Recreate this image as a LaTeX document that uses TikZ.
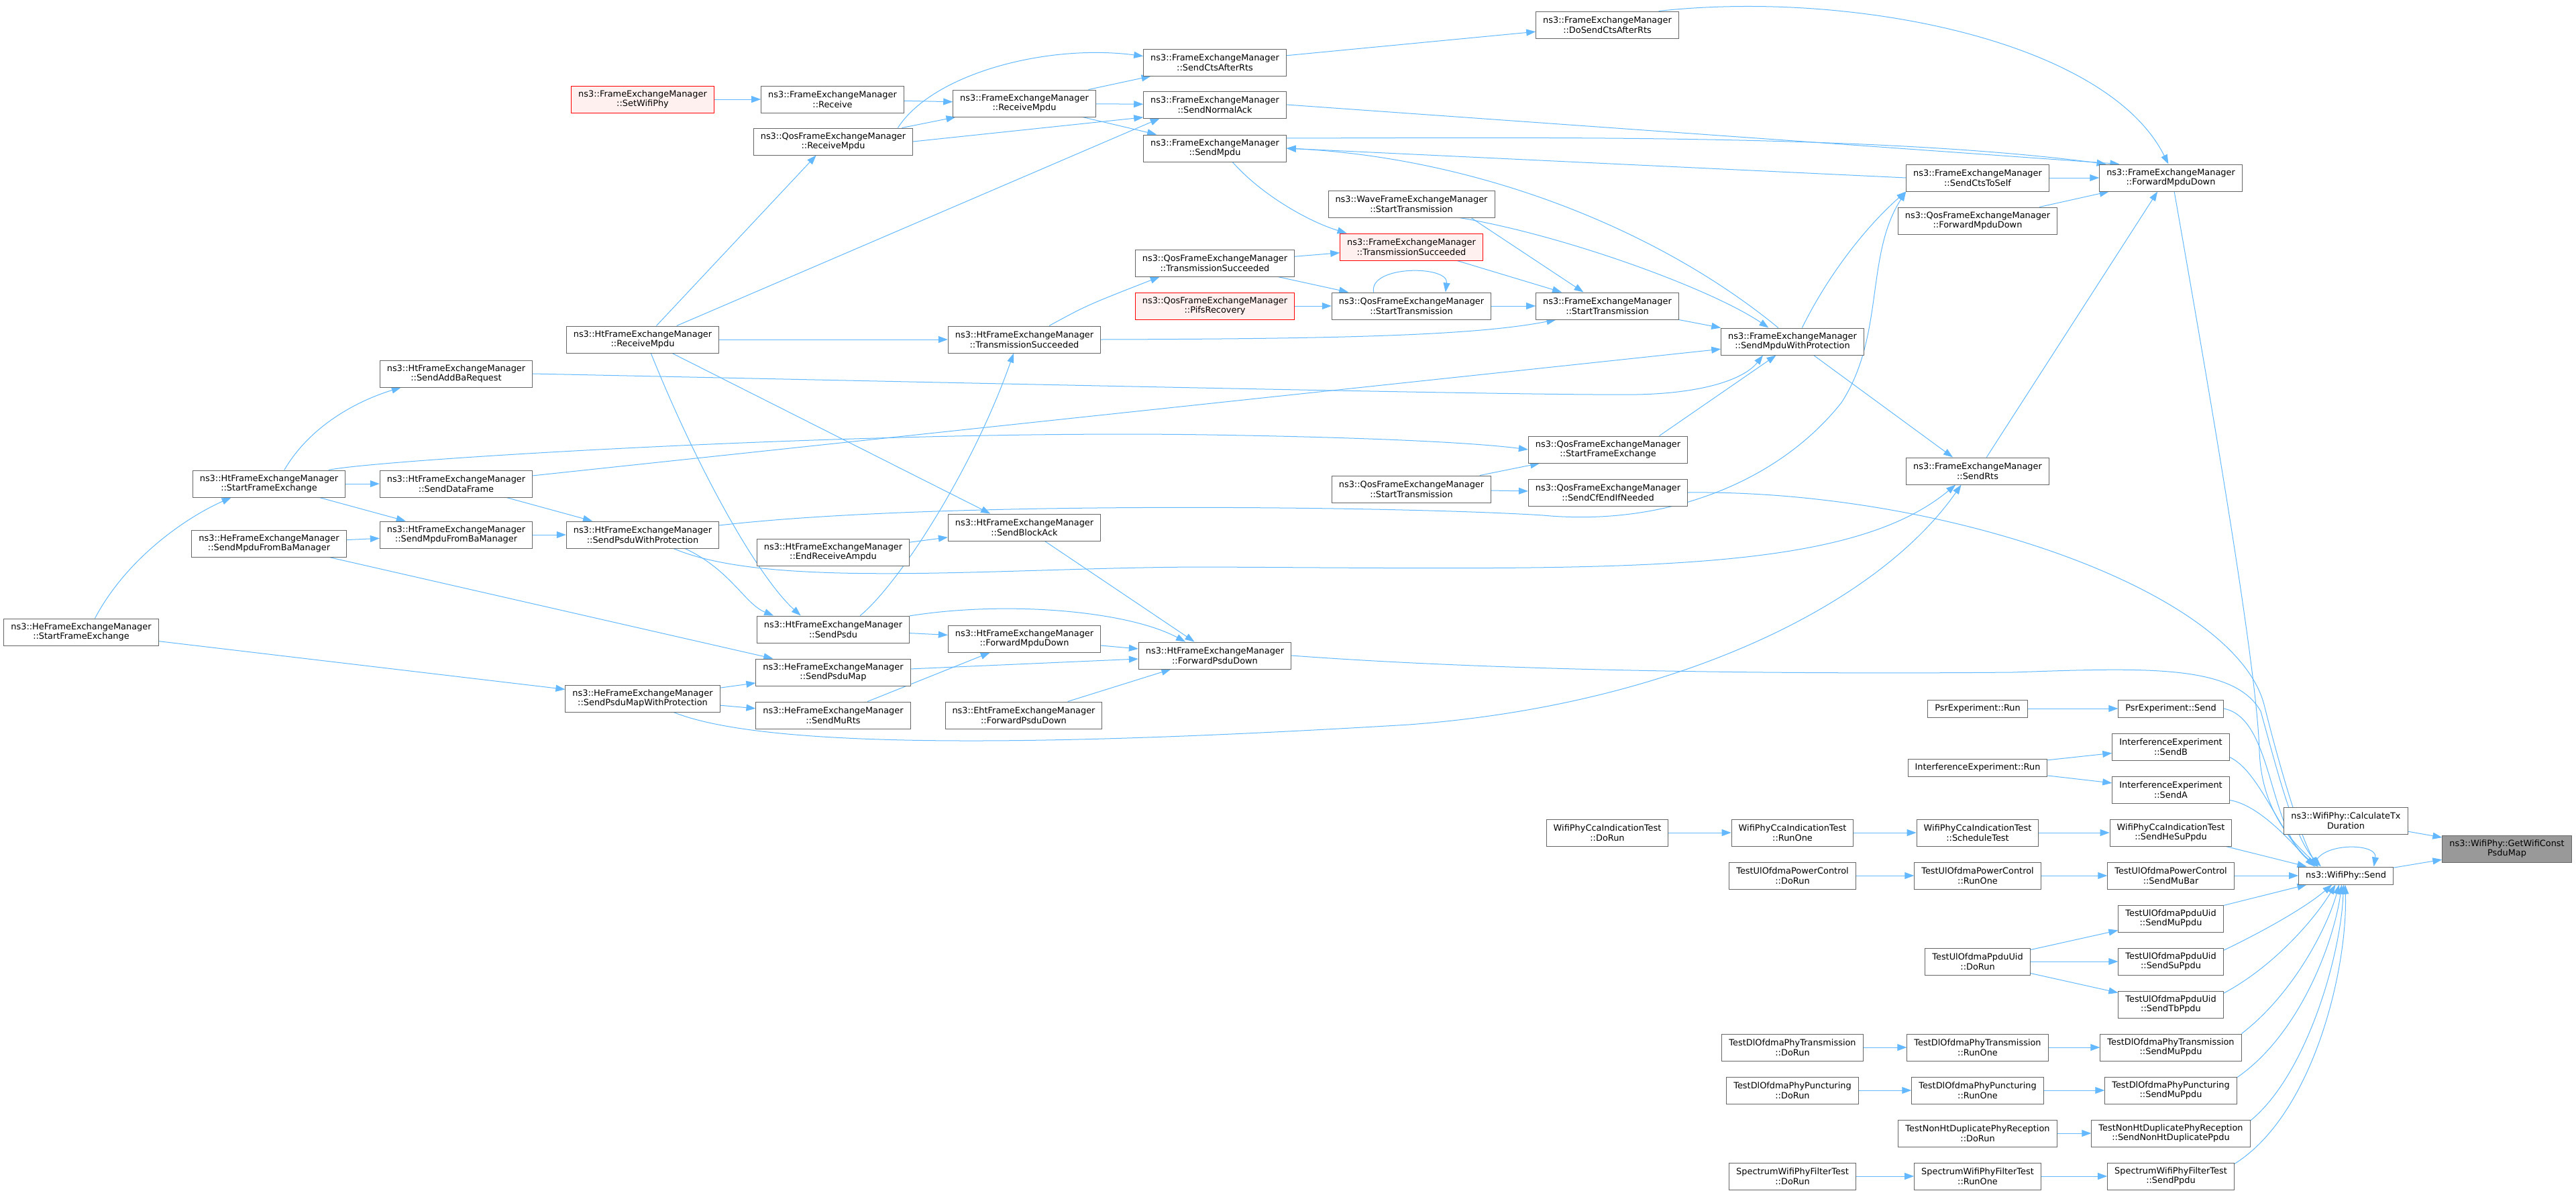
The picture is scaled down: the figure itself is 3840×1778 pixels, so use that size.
\documentclass[tikz,border=0pt]{standalone}
\usepackage{fontspec}
\setmainfont{DejaVu Sans}
\usetikzlibrary{arrows.meta,backgrounds}

\definecolor{edgeblue}{HTML}{63B8FF}
\definecolor{boxgray}{HTML}{666666}
\definecolor{rootfill}{HTML}{999999}
\definecolor{redfill}{HTML}{FFF0F0}

\begin{document}
\begin{tikzpicture}[x=0.5pt,y=-0.5pt,
    fn/.style={rectangle,draw=boxgray,line width=0.5pt,fill=white,align=center,
        inner xsep=5.25pt,inner ysep=1pt,minimum height=20pt,
        font=\fontsize{6.45}{7.3}\selectfont},
    fn1/.style={fn,minimum height=13pt},
    redfn/.style={fn,draw=red,fill=redfill},
    rootfn/.style={fn,fill=rootfill},
    calls/.style={draw=edgeblue,line width=0.5pt,-{Triangle[length=7pt,width=5pt]}}]

        \useasboundingbox (0,0) rectangle (3840,1778);

        \node [redfn] (setphy) at (958,148) {ns3::FrameExchangeManager\\::SetWifiPhy};
        \node [fn] (receive) at (1241,148) {ns3::FrameExchangeManager\\::Receive};
        \node [fn] (qosrx) at (1242,211) {ns3::QosFrameExchangeManager\\::ReceiveMpdu};
        \node [fn] (rxmpdu) at (1527,154) {ns3::FrameExchangeManager\\::ReceiveMpdu};
        \node [fn] (sendcts) at (1811,93) {ns3::FrameExchangeManager\\::SendCtsAfterRts};
        \node [fn] (normack) at (1811,156) {ns3::FrameExchangeManager\\::SendNormalAck};
        \node [fn] (sendmpdu) at (1811,221) {ns3::FrameExchangeManager\\::SendMpdu};
        \node [fn] (dosendcts) at (2396,37) {ns3::FrameExchangeManager\\::DoSendCtsAfterRts};
        \node [fn] (wavetx) at (2104,304) {ns3::WaveFrameExchangeManager\\::StartTransmission};
        \node [redfn] (femts) at (2104,368) {ns3::FrameExchangeManager\\::TransmissionSucceeded};
        \node [fn] (qosts) at (1811,392) {ns3::QosFrameExchangeManager\\::TransmissionSucceeded};
        \node [redfn] (pifs) at (1811,456) {ns3::QosFrameExchangeManager\\::PifsRecovery};
        \node [fn] (qostx) at (2104,456) {ns3::QosFrameExchangeManager\\::StartTransmission};
        \node [fn] (femtx) at (2396,456) {ns3::FrameExchangeManager\\::StartTransmission};
        \node [fn] (htrx) at (958,506) {ns3::HtFrameExchangeManager\\::ReceiveMpdu};
        \node [fn] (htts) at (1527,506) {ns3::HtFrameExchangeManager\\::TransmissionSucceeded};
        \node [fn] (mpduprot) at (2672,509) {ns3::FrameExchangeManager\\::SendMpduWithProtection};
        \node [fn] (ctsself) at (2948,265) {ns3::FrameExchangeManager\\::SendCtsToSelf};
        \node [fn] (qosfmd) at (2948,329) {ns3::QosFrameExchangeManager\\::ForwardMpduDown};
        \node [fn] (fmd) at (3236,265) {ns3::FrameExchangeManager\\::ForwardMpduDown};
        \node [fn] (addba) at (680,557) {ns3::HtFrameExchangeManager\\::SendAddBaRequest};
        \node [fn] (qossfe) at (2397,670) {ns3::QosFrameExchangeManager\\::StartFrameExchange};
        \node [fn] (sendrts) at (2948,702) {ns3::FrameExchangeManager\\::SendRts};
        \node [fn] (qostxb) at (2104,729) {ns3::QosFrameExchangeManager\\::StartTransmission};
        \node [fn] (cfend) at (2397,734) {ns3::QosFrameExchangeManager\\::SendCfEndIfNeeded};
        \node [fn] (htsfe) at (401,721) {ns3::HtFrameExchangeManager\\::StartFrameExchange};
        \node [fn] (dataframe) at (680,721) {ns3::HtFrameExchangeManager\\::SendDataFrame};
        \node [fn] (htmbam) at (680,797) {ns3::HtFrameExchangeManager\\::SendMpduFromBaManager};
        \node [fn] (hembam) at (401,810) {ns3::HeFrameExchangeManager\\::SendMpduFromBaManager};
        \node [fn] (psduprot) at (958,797) {ns3::HtFrameExchangeManager\\::SendPsduWithProtection};
        \node [fn] (blockack) at (1527,786) {ns3::HtFrameExchangeManager\\::SendBlockAck};
        \node [fn] (endampdu) at (1242,823) {ns3::HtFrameExchangeManager\\::EndReceiveAmpdu};
        \node [fn] (hesfe) at (121,942) {ns3::HeFrameExchangeManager\\::StartFrameExchange};
        \node [fn] (sendpsdu) at (1242,938) {ns3::HtFrameExchangeManager\\::SendPsdu};
        \node [fn] (htfmd) at (1527,952) {ns3::HtFrameExchangeManager\\::ForwardMpduDown};
        \node [fn] (htfpd) at (1811,977) {ns3::HtFrameExchangeManager\\::ForwardPsduDown};
        \node [fn] (sendmap) at (1242,1002) {ns3::HeFrameExchangeManager\\::SendPsduMap};
        \node [fn] (mapprot) at (958,1041) {ns3::HeFrameExchangeManager\\::SendPsduMapWithProtection};
        \node [fn] (murts) at (1242,1066) {ns3::HeFrameExchangeManager\\::SendMuRts};
        \node [fn] (ehtfpd) at (1526,1066) {ns3::EhtFrameExchangeManager\\::ForwardPsduDown};

        \node [fn1] (psrrun) at (2948,1056) {PsrExperiment::Run};
        \node [fn1] (psrsend) at (3236,1056) {PsrExperiment::Send};
        \node [fn] (sendb) at (3236,1113) {InterferenceExperiment\\::SendB};
        \node [fn1] (ifrun) at (2948,1144) {InterferenceExperiment::Run};
        \node [fn] (senda) at (3236,1177) {InterferenceExperiment\\::SendA};
        \node [fn] (calctx) at (3497,1223) {ns3::WifiPhy::CalculateTx\\Duration};
        \node [rootfn] (root) at (3737,1265) {ns3::WifiPhy::GetWifiConst\\PsduMap};
        \node [fn1] (send) at (3497,1305) {ns3::WifiPhy::Send};

        \node [fn] (ccadorun) at (2396,1241) {WifiPhyCcaIndicationTest\\::DoRun};
        \node [fn] (ccarunone) at (2672,1241) {WifiPhyCcaIndicationTest\\::RunOne};
        \node [fn] (ccasched) at (2948,1241) {WifiPhyCcaIndicationTest\\::ScheduleTest};
        \node [fn] (ccasend) at (3236,1241) {WifiPhyCcaIndicationTest\\::SendHeSuPpdu};
        \node [fn] (pcdorun) at (2672,1305) {TestUlOfdmaPowerControl\\::DoRun};
        \node [fn] (pcrunone) at (2948,1305) {TestUlOfdmaPowerControl\\::RunOne};
        \node [fn] (pcmubar) at (3236,1305) {TestUlOfdmaPowerControl\\::SendMuBar};
        \node [fn] (uidmu) at (3236,1369) {TestUlOfdmaPpduUid\\::SendMuPpdu};
        \node [fn] (uiddorun) at (2948,1433) {TestUlOfdmaPpduUid\\::DoRun};
        \node [fn] (uidsu) at (3236,1433) {TestUlOfdmaPpduUid\\::SendSuPpdu};
        \node [fn] (uidtb) at (3236,1497) {TestUlOfdmaPpduUid\\::SendTbPpdu};
        \node [fn] (dltdorun) at (2672,1561) {TestDlOfdmaPhyTransmission\\::DoRun};
        \node [fn] (dltrunone) at (2948,1561) {TestDlOfdmaPhyTransmission\\::RunOne};
        \node [fn] (dltmu) at (3236,1561) {TestDlOfdmaPhyTransmission\\::SendMuPpdu};
        \node [fn] (dlpdorun) at (2672,1625) {TestDlOfdmaPhyPuncturing\\::DoRun};
        \node [fn] (dlprunone) at (2948,1625) {TestDlOfdmaPhyPuncturing\\::RunOne};
        \node [fn] (dlpmu) at (3236,1625) {TestDlOfdmaPhyPuncturing\\::SendMuPpdu};
        \node [fn] (nhtdorun) at (2948,1689) {TestNonHtDuplicatePhyReception\\::DoRun};
        \node [fn] (nhtsend) at (3236,1689) {TestNonHtDuplicatePhyReception\\::SendNonHtDuplicatePpdu};
        \node [fn] (swdorun) at (2672,1753) {SpectrumWifiPhyFilterTest\\::DoRun};
        \node [fn] (swrunone) at (2948,1753) {SpectrumWifiPhyFilterTest\\::RunOne};
        \node [fn] (swsend) at (3236,1753) {SpectrumWifiPhyFilterTest\\::SendPpdu};

    \begin{scope}[on background layer]
        \draw [calls] (setphy) -- (receive);
        \draw [calls] (receive) -- (rxmpdu);
        \draw [calls] (qosrx) -- (rxmpdu);
        \draw [calls] (qosrx.east) -- (normack.-170);
        \draw [calls] (qosrx.12) .. controls (1390,110) and (1560,65) .. (sendcts.175);
        \draw [calls] (rxmpdu) -- (sendcts);
        \draw [calls] (rxmpdu) -- (normack);
        \draw [calls] (rxmpdu) -- (sendmpdu);
        \draw [calls] (sendcts) -- (dosendcts);
        \draw [calls] (dosendcts.15) .. controls (2760,-15) and (3140,60) .. (fmd.100);
        \draw [calls] (normack.east) -- (fmd.165);
        \draw [calls] (sendmpdu.8) .. controls (2300,205) and (2800,200) .. (fmd.168);
        \draw [calls] (ctsself.west) -- (sendmpdu.east);
        \draw [calls] (ctsself) -- (fmd);
        \draw [calls] (qosfmd) -- (fmd);
        \draw [calls] (sendmpdu.-38) .. controls (1880,290) and (1950,330) .. (femts.168);
        \draw [calls] (qosts) -- (femts);
        \draw [calls] (qosts) -- (qostx);
        \draw [calls] (pifs) -- (qostx);
        \draw [calls] (qostx) -- (femtx);
        \draw [calls] (qostx.160) .. controls (2040,395) and (2160,395) .. (qostx.22);
        \draw [calls] (femts) -- (femtx);
        \draw [calls] (wavetx.-13) -- (femtx.150);
        \draw [calls] (wavetx.-16) .. controls (2330,350) and (2550,430) .. (mpduprot.150);
        \draw [calls] (mpduprot.136) .. controls (2470,340) and (2200,235) .. (sendmpdu.east);
        \draw [calls] (mpduprot.55) .. controls (2730,400) and (2790,330) .. (ctsself.south west);
        \draw [calls] (femtx) -- (mpduprot);
        \draw [calls] (mpduprot.-33) -- (sendrts.151);
        \draw [calls] (sendrts.57) -- (fmd.-134);
        \draw [calls] (addba.east) .. controls (1500,572) and (2300,590) .. (2440,588)
            .. controls (2540,586) and (2600,565) .. (mpduprot.-155);
        \draw [calls] (dataframe) -- (mpduprot);
        \draw [calls] (qossfe.15) -- (mpduprot.-140);
        \draw [calls] (htsfe.13) .. controls (560,685) and (1300,640) .. (1800,648)
            .. controls (2050,652) and (2200,660) .. (qossfe.west);
        \draw [calls] (qostxb) -- (qossfe);
        \draw [calls] (qostxb) -- (cfend);
        \draw [calls] (cfend.east) .. controls (2900,730) and (3330,880) .. (3375,1050)
            .. controls (3400,1150) and (3430,1250) .. (send.162);
        \draw [calls] (htfpd.east) .. controls (2300,1005) and (2800,1004) .. (3000,1002)
            .. controls (3200,995) and (3330,990) .. (3370,1060)
            .. controls (3395,1150) and (3420,1250) .. (send.160);
        \draw [calls] (fmd.-76) .. controls (3300,620) and (3365,1000) .. (3368,1120)
            .. controls (3372,1220) and (3430,1265) .. (send.162);

        \draw [calls] (htrx) -- (htts);
        \draw [calls] (htrx.45) -- (qosrx.-141);
        \draw [calls] (htrx.22) -- (normack.-166);
        \draw [calls] (htrx.-59) .. controls (1040,700) and (1130,860) .. (sendpsdu.157);
        \draw [calls] (htrx.-25) -- (blockack.158);
        \draw [calls] (endampdu) -- (blockack);
        \draw [calls] (blockack) -- (htfpd);
        \draw [calls] (sendpsdu) -- (htfmd);
        \draw [calls] (sendpsdu.10) .. controls (1500,895) and (1680,910) .. (htfpd.155);
        \draw [calls] (sendpsdu.27) .. controls (1340,870) and (1450,700) .. (htts.-128);
        \draw [calls] (htts.29) .. controls (1620,455) .. (qosts.-166);
        \draw [calls] (htts.east) .. controls (2000,505) and (2200,500) .. (femtx.-165);
        \draw [calls] (psduprot.-18) .. controls (1090,850) and (1110,900) .. (sendpsdu.167);
        \draw [calls] (psduprot.7) .. controls (1400,745) and (2100,755) .. (2300,768)
            .. controls (2480,785) and (2650,720) .. (2745,600)
            .. controls (2810,500) and (2780,380) .. (ctsself.south west);
        \draw [calls] (psduprot.-24) .. controls (1150,880) and (1500,845) .. (1800,845)
            .. controls (2400,848) and (2750,860) .. (sendrts.-148);
        \draw [calls] (mapprot.-24) .. controls (1150,1120) and (1600,1110) .. (2100,1080)
            .. controls (2500,1050) and (2800,900) .. (sendrts.-140);
        \draw [calls] (hesfe.45) .. controls (190,830) and (280,770) .. (htsfe.-160);
        \draw [calls] (hesfe) -- (mapprot);
        \draw [calls] (htsfe) -- (dataframe);
        \draw [calls] (htsfe) -- (htmbam);
        \draw [calls] (htsfe.42) .. controls (465,630) and (540,595) .. (addba.-166);
        \draw [calls] (hembam) -- (htmbam);
        \draw [calls] (hembam) -- (sendmap);
        \draw [calls] (dataframe) -- (psduprot);
        \draw [calls] (htmbam) -- (psduprot);
        \draw [calls] (mapprot) -- (sendmap);
        \draw [calls] (mapprot) -- (murts);
        \draw [calls] (murts) -- (htfmd);
        \draw [calls] (sendmap) -- (htfpd);
        \draw [calls] (htfmd) -- (htfpd);
        \draw [calls] (ehtfpd) -- (htfpd);

        \draw [calls] (psrrun) -- (psrsend);
        \draw [calls] (ifrun) -- (sendb);
        \draw [calls] (ifrun) -- (senda);
        \draw [calls] (psrsend.east) .. controls (3390,1070) and (3380,1240) .. (send.162);
        \draw [calls] (sendb.-10) .. controls (3370,1150) and (3400,1250) .. (send.162);
        \draw [calls] (senda.-10) .. controls (3370,1200) and (3420,1260) .. (send.164);
        \draw [calls] (ccadorun) -- (ccarunone);
        \draw [calls] (ccarunone) -- (ccasched);
        \draw [calls] (ccasched) -- (ccasend);
        \draw [calls] (ccasend.-14) -- (send.167);
        \draw [calls] (pcdorun) -- (pcrunone);
        \draw [calls] (pcrunone) -- (pcmubar);
        \draw [calls] (pcmubar) -- (send);
        \draw [calls] (uiddorun) -- (uidmu);
        \draw [calls] (uiddorun) -- (uidsu);
        \draw [calls] (uiddorun) -- (uidtb);
        \draw [calls] (uidmu.14) -- (send.-167);
        \draw [calls] (uidsu.12) .. controls (3380,1385) and (3440,1350) .. (send.-147);
        \draw [calls] (uidtb.12) .. controls (3390,1440) and (3450,1370) .. (send.-139);
        \draw [calls] (dltdorun) -- (dltrunone);
        \draw [calls] (dltrunone) -- (dltmu);
        \draw [calls] (dltmu.11) .. controls (3420,1480) and (3470,1380) .. (send.-127);
        \draw [calls] (dlpdorun) -- (dlprunone);
        \draw [calls] (dlprunone) -- (dlpmu);
        \draw [calls] (dlpmu.11) .. controls (3430,1540) and (3480,1400) .. (send.-115);
        \draw [calls] (nhtdorun) -- (nhtsend);
        \draw [calls] (nhtsend.9) .. controls (3440,1600) and (3490,1420) .. (send.-105);
        \draw [calls] (swdorun) -- (swrunone);
        \draw [calls] (swrunone) -- (swsend);
        \draw [calls] (swsend.11) .. controls (3450,1660) and (3500,1440) .. (send.-95);
        \draw [calls] (send.164) .. controls (3452,1255) and (3545,1255) .. (send.18);
        \draw [calls] (send) -- (root);
        \draw [calls] (calctx) -- (root);
    \end{scope}
    \end{tikzpicture}
\end{document}
